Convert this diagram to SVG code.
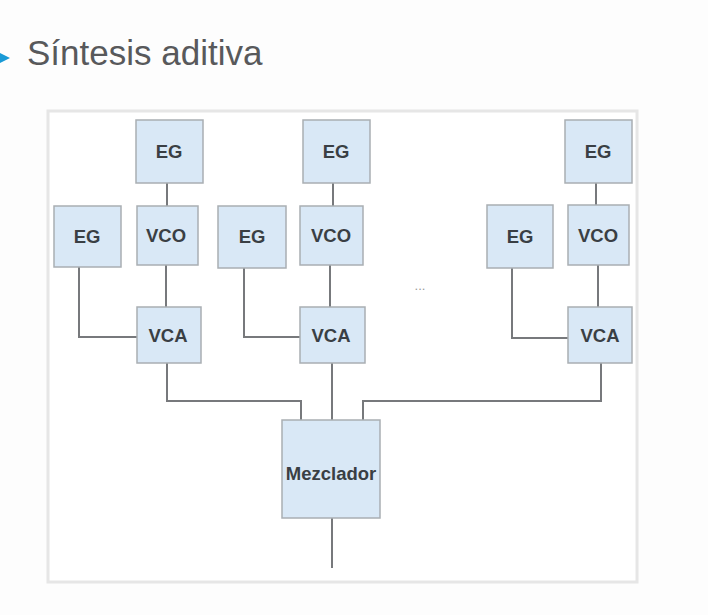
<svg xmlns="http://www.w3.org/2000/svg" width="708" height="615" viewBox="0 0 708 615">
<style>
.bx{fill:#d9e8f6;stroke:#a9aeb3;stroke-width:1.5}
.lb{font-family:"Liberation Sans",Arial,sans-serif;font-weight:bold;font-size:18.5px;fill:#3a3f44;text-anchor:middle}
.cn{fill:none;stroke:#77797c;stroke-width:2}
</style>
<rect x="0" y="0" width="708" height="615" fill="#fdfdfd"/>
<polygon points="0,53 10,58 0,63" fill="#1a9ad6"/>
<text x="27" y="65" font-family="Liberation Sans,Arial,sans-serif" font-size="35" fill="#58595b">Síntesis aditiva</text>
<rect x="48" y="111" width="589" height="471" fill="#ffffff" stroke="#e6e6e6" stroke-width="3"/>
<g id="connectors">
<path class="cn" d="M167,183V206M166,265V307M79,267V337H137"/>
<path class="cn" d="M333,183V206M330,265V307M244,268V337H300"/>
<path class="cn" d="M596,183V205M598,265V307M512,268V338H568"/>
<path class="cn" d="M167,363V401H301V420M332,363V420M363,420V401H601V363M332,518V568"/>
</g>
<g id="eg1t"><rect class="bx" x="136" y="120" width="67" height="63"/><text class="lb" x="169" y="158">EG</text></g>
<g id="eg1l"><rect class="bx" x="54" y="206" width="67" height="61"/><text class="lb" x="87" y="243">EG</text></g>
<g id="vco1"><rect class="bx" x="137" y="206" width="61" height="59"/><text class="lb" x="166" y="242">VCO</text></g>
<g id="vca1"><rect class="bx" x="137" y="307" width="64" height="56"/><text class="lb" x="168" y="342">VCA</text></g>
<g id="eg2t"><rect class="bx" x="303" y="120" width="67" height="63"/><text class="lb" x="336" y="158">EG</text></g>
<g id="eg2l"><rect class="bx" x="218" y="206" width="68" height="62"/><text class="lb" x="252" y="243">EG</text></g>
<g id="vco2"><rect class="bx" x="300" y="206" width="63" height="59"/><text class="lb" x="331" y="242">VCO</text></g>
<g id="vca2"><rect class="bx" x="300" y="307" width="65" height="56"/><text class="lb" x="331" y="342">VCA</text></g>
<g id="eg3t"><rect class="bx" x="565" y="120" width="67" height="63"/><text class="lb" x="598" y="158">EG</text></g>
<g id="eg3l"><rect class="bx" x="487" y="205" width="66" height="63"/><text class="lb" x="520" y="243">EG</text></g>
<g id="vco3"><rect class="bx" x="568" y="205" width="61" height="60"/><text class="lb" x="598" y="242">VCO</text></g>
<g id="vca3"><rect class="bx" x="568" y="307" width="64" height="56"/><text class="lb" x="600" y="342">VCA</text></g>
<g id="dots"><text x="420" y="290" font-family="Liberation Sans,Arial,sans-serif" font-size="13" fill="#999" text-anchor="middle">...</text></g>
<g id="mezclador"><rect class="bx" x="282" y="420" width="98" height="98"/><text class="lb" x="331" y="480" font-size="17.5">Mezclador</text></g>
</svg>
